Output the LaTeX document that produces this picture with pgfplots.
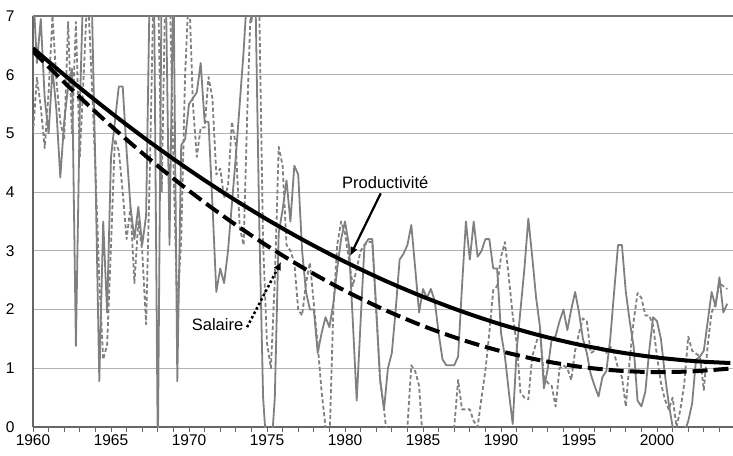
\documentclass[border=0pt]{standalone}
\usepackage{pgfplots}
\pgfplotsset{compat=1.18}
\usepackage{fontspec}
\setmainfont{Liberation Sans}
\usetikzlibrary{calc,arrows.meta}

\pgfplotsset{
  gP/.style={color=black!50, line width=1.8pt, line join=round},
  gS/.style={color=black!50, line width=1.8pt, dash pattern=on 4pt off 2.5pt, line join=round},
}

\begin{document}
\begin{tikzpicture}
\begin{axis}[
  width=700pt, height=411pt, scale only axis,
  xmin=1960, xmax=2004.87, ymin=0, ymax=7,
  axis x line*=bottom, axis y line*=left,
  x axis line style={-}, y axis line style={-},
  axis line style={black!60, line width=1.2pt},
  xtick={1960,1965,...,2000},
  minor xtick={1961,...,2004},
  xtick align=outside,
  major tick length=5pt, minor tick length=5pt,
  x tick style={black!60, line width=0.9pt},
  minor x tick style={black!60, line width=0.9pt},
  ytick={0,...,7},
  y tick style={draw=none},
  ymajorgrids, grid style={black!30, line width=0.9pt},
  extra y ticks={7}, extra y tick labels={},
  extra y tick style={grid style={black!55, line width=1.2pt}},
  tick label style={font=\fontsize{15.5}{17}\selectfont},
  yticklabel style={xshift=-15pt},
  xticklabel style={yshift=1pt},
  /pgf/number format/assume math mode=true,
  /pgf/number format/1000 sep={},
]
% Productivity (quarterly growth)
\addplot[gP] coordinates {
(1960.0,7.5)(1960.25,6.2)(1960.5,6.95)(1960.75,5.6)(1961.0,5.0)(1961.25,6.1)(1961.5,5.4)(1961.75,4.25)
(1962.0,5.2)(1962.25,5.8)(1962.5,6.1)(1962.75,1.38)(1963.0,5.4)(1963.25,7.8)(1963.5,7.8)(1963.75,7.5)
(1964.0,4.4)(1964.25,0.78)(1964.5,3.5)(1964.75,1.95)(1965.0,4.6)(1965.25,5.2)(1965.5,5.8)(1965.75,5.8)
(1966.0,4.7)(1966.25,3.75)(1966.5,3.2)(1966.75,3.75)(1967.0,3.1)(1967.25,3.6)(1967.5,7.8)(1967.75,7.8)
(1968.0,-0.5)(1968.25,7.8)(1968.5,7.8)(1968.75,3.1)(1969.0,7.8)(1969.25,0.78)(1969.5,4.8)(1969.75,4.9)
(1970.0,5.5)(1970.25,5.6)(1970.5,5.7)(1970.75,6.2)(1971.0,5.2)(1971.25,5.2)(1971.5,3.8)(1971.75,2.3)
(1972.0,2.7)(1972.25,2.45)(1972.5,3.0)(1972.75,3.8)(1973.0,4.6)(1973.25,5.5)(1973.5,6.4)(1973.75,7.5)
(1974.0,6.9)(1974.25,7.5)(1974.5,3.5)(1974.75,0.5)(1975.0,-0.5)(1975.25,-0.5)(1975.5,0.5)(1975.75,3.3)
(1976.0,3.7)(1976.25,4.2)(1976.5,3.5)(1976.75,4.45)(1977.0,4.3)(1977.25,3.0)(1977.5,2.3)(1977.75,2.0)
(1978.0,2.0)(1978.25,1.26)(1978.5,1.6)(1978.75,1.87)(1979.0,1.7)(1979.25,2.1)(1979.5,2.7)(1979.75,3.2)
(1980.0,3.5)(1980.25,3.1)(1980.5,1.8)(1980.75,0.45)(1981.0,1.8)(1981.25,3.1)(1981.5,3.2)(1981.75,3.2)
(1982.0,2.0)(1982.25,0.8)(1982.5,0.3)(1982.75,1.0)(1983.0,1.26)(1983.25,2.0)(1983.5,2.85)(1983.75,2.95)
(1984.0,3.1)(1984.25,3.44)(1984.5,2.7)(1984.75,1.95)(1985.0,2.35)(1985.25,2.2)(1985.5,2.35)(1985.75,2.15)
(1986.0,1.6)(1986.25,1.15)(1986.5,1.05)(1986.75,1.05)(1987.0,1.05)(1987.25,1.2)(1987.5,2.4)(1987.75,3.5)
(1988.0,2.85)(1988.25,3.5)(1988.5,2.9)(1988.75,3.0)(1989.0,3.2)(1989.25,3.2)(1989.5,2.7)(1989.75,2.7)
(1990.0,1.6)(1990.25,1.2)(1990.5,0.6)(1990.75,0.05)(1991.0,1.3)(1991.25,2.0)(1991.5,2.7)(1991.75,3.55)
(1992.0,2.9)(1992.25,2.2)(1992.5,1.7)(1992.75,0.66)(1993.0,1.0)(1993.25,1.5)(1993.5,1.55)(1993.75,1.8)
(1994.0,2.0)(1994.25,1.65)(1994.5,2.0)(1994.75,2.3)(1995.0,1.95)(1995.25,1.5)(1995.5,1.26)(1995.75,0.9)
(1996.0,0.7)(1996.25,0.52)(1996.5,0.85)(1996.75,0.95)(1997.0,1.5)(1997.25,2.3)(1997.5,3.1)(1997.75,3.1)
(1998.0,2.3)(1998.25,1.8)(1998.5,1.37)(1998.75,0.45)(1999.0,0.35)(1999.25,0.6)(1999.5,1.3)(1999.75,1.87)
(2000.0,1.8)(2000.25,1.5)(2000.5,0.9)(2000.75,0.4)(2001.0,0.0)(2001.25,-0.2)(2001.5,-0.3)(2001.75,-0.1)
(2002.0,0.1)(2002.25,0.4)(2002.5,1.15)(2002.75,1.2)(2003.0,1.3)(2003.25,1.8)(2003.5,2.3)(2003.75,2.05)
(2004.0,2.55)(2004.25,1.95)(2004.5,2.1)
};
% Salary (quarterly growth)
\addplot[gS] coordinates {
(1960.0,5.0)(1960.25,5.95)(1960.5,5.45)(1960.75,4.75)(1961.0,5.7)(1961.25,7.0)(1961.5,5.9)(1961.75,5.2)
(1962.0,4.9)(1962.25,6.9)(1962.5,5.0)(1962.75,6.9)(1963.0,4.6)(1963.25,6.0)(1963.5,7.5)(1963.75,6.0)
(1964.0,4.4)(1964.25,2.5)(1964.5,1.15)(1964.75,1.4)(1965.0,3.1)(1965.25,4.9)(1965.5,4.7)(1965.75,4.0)
(1966.0,3.2)(1966.25,3.75)(1966.5,2.45)(1966.75,3.5)(1967.0,3.0)(1967.25,1.75)(1967.5,4.5)(1967.75,7.8)
(1968.0,7.8)(1968.25,4.0)(1968.5,7.8)(1968.75,7.8)(1969.0,4.5)(1969.25,2.0)(1969.5,3.2)(1969.75,6.0)
(1970.0,7.5)(1970.25,5.5)(1970.5,4.6)(1970.75,5.1)(1971.0,5.1)(1971.25,5.96)(1971.5,5.6)(1971.75,4.3)
(1972.0,4.4)(1972.25,3.9)(1972.5,4.1)(1972.75,5.2)(1973.0,4.8)(1973.25,3.4)(1973.5,3.1)(1973.75,5.5)
(1974.0,7.5)(1974.25,7.5)(1974.5,7.2)(1974.75,3.1)(1975.0,1.43)(1975.25,1.0)(1975.5,2.5)(1975.75,4.77)
(1976.0,4.45)(1976.25,3.1)(1976.5,3.0)(1976.75,2.8)(1977.0,2.0)(1977.25,1.9)(1977.5,2.45)(1977.75,2.8)
(1978.0,2.1)(1978.25,1.4)(1978.5,0.6)(1978.75,0.0)(1979.0,-0.3)(1979.25,2.0)(1979.5,3.1)(1979.75,3.5)
(1980.0,3.3)(1980.25,2.85)(1980.5,2.4)(1980.75,2.7)(1981.0,3.0)(1981.25,3.1)(1981.5,3.15)(1981.75,3.15)
(1982.0,2.0)(1982.25,0.8)(1982.5,0.3)(1982.75,-0.3)(1983.0,-0.5)(1983.25,-0.5)(1983.5,-0.5)(1983.75,-0.3)
(1984.0,0.0)(1984.25,1.05)(1984.5,0.95)(1984.75,0.7)(1985.0,-0.3)(1985.25,-0.8)(1985.5,-1.0)(1985.75,-1.0)
(1986.0,-0.9)(1986.25,-0.8)(1986.5,-0.6)(1986.75,-0.3)(1987.0,0.0)(1987.25,0.8)(1987.5,0.3)(1987.75,0.3)
(1988.0,0.3)(1988.25,0.1)(1988.5,0.0)(1988.75,0.5)(1989.0,0.97)(1989.25,1.6)(1989.5,2.33)(1989.75,2.4)
(1990.0,2.9)(1990.25,3.15)(1990.5,2.55)(1990.75,1.9)(1991.0,1.43)(1991.25,0.58)(1991.5,0.5)(1991.75,0.47)
(1992.0,1.2)(1992.25,1.43)(1992.5,1.65)(1992.75,0.85)(1993.0,0.75)(1993.25,0.7)(1993.5,0.35)(1993.75,1.0)
(1994.0,1.05)(1994.25,1.0)(1994.5,0.8)(1994.75,1.3)(1995.0,1.6)(1995.25,1.85)(1995.5,1.8)(1995.75,1.26)
(1996.0,1.3)(1996.25,1.37)(1996.5,1.3)(1996.75,1.26)(1997.0,1.37)(1997.25,1.26)(1997.5,1.0)(1997.75,0.85)
(1998.0,0.35)(1998.25,1.15)(1998.5,1.8)(1998.75,2.28)(1999.0,2.2)(1999.25,1.9)(1999.5,1.9)(1999.75,1.73)
(2000.0,1.2)(2000.25,0.75)(2000.5,0.47)(2000.75,0.3)(2001.0,0.5)(2001.25,0.0)(2001.5,0.3)(2001.75,0.75)
(2002.0,1.54)(2002.25,1.3)(2002.5,1.25)(2002.75,1.2)(2003.0,0.63)(2003.25,1.4)(2003.5,1.95)(2003.75,2.1)
(2004.0,2.45)(2004.25,2.4)(2004.5,2.35)
};
% Trend: productivity
\addplot[black, line width=4pt, smooth] coordinates {
(1960,6.45)(1962.5,5.886)(1965,5.353)(1967.5,4.851)(1970,4.381)(1972.5,3.942)(1975,3.535)
(1977.5,3.159)(1980,2.814)(1982.5,2.500)(1985,2.218)(1987.5,1.967)(1990,1.747)(1992.5,1.559)
(1995,1.403)(1997.5,1.277)(2000,1.183)(2002.5,1.120)(2004.7,1.09)
};
% Trend: salary
\addplot[black, line width=4pt, smooth, dash pattern=on 15pt off 6pt] coordinates {
(1960,6.4)(1962.5,5.743)(1965,5.128)(1967.5,4.555)(1970,4.024)(1972.5,3.535)(1975,3.088)
(1977.5,2.683)(1980,2.320)(1982.5,2.000)(1985,1.721)(1987.5,1.485)(1990,1.291)(1992.5,1.138)
(1995,1.028)(1997.5,0.960)(2000,0.934)(2002.5,0.951)(2004.87,1.0)
};
\node[font=\fontsize{16.5}{18}\selectfont, inner sep=1pt] at (axis cs:1982.58,4.17) {Productivité};
\draw[black, line width=2.2pt, -{Latex[length=9pt,width=8pt]}] (axis cs:1982.29,3.98) -- (axis cs:1980.32,2.91);
\node[font=\fontsize{16.5}{18}\selectfont, anchor=east, inner sep=1pt] at (axis cs:1973.55,1.74) {Salaire};
\draw[black, line width=2.5pt, dash pattern=on 2.5pt off 2.5pt, -{Latex[length=8pt,width=8pt]}] (axis cs:1973.72,1.70) -- (axis cs:1975.9,2.81);
\end{axis}
\pgfresetboundingbox
\path[use as bounding box] ($(current axis.south west)+(-33pt,-28pt)$) rectangle ($(current axis.north east)+(0pt,16pt)$);
\end{tikzpicture}
\end{document}
